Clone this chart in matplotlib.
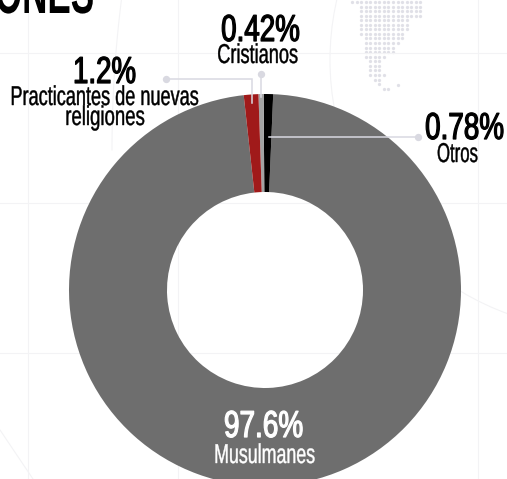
import numpy as np
import matplotlib
matplotlib.use("Agg")
import matplotlib.pyplot as plt
from matplotlib.patheffects import AbstractPathEffect
from matplotlib.patches import Circle
from matplotlib.transforms import Affine2D

categories = ["Musulmanes", "Otros", "Cristianos", "Practicantes de nuevas\nreligiones"]
values = [97.6, 0.78, 0.42, 1.2]
colors = ["#6e6e6e", "#000000", "#a3a3a3", "#a01a1a"]

FONT = "Liberation Sans"
W, H = 507, 479
GRID = "#f3f3f5"
LINE = "#d9d9e1"

fig = plt.figure(figsize=(W / 100, H / 100), dpi=100)


def pixel_axes(z):
    a = fig.add_axes([0, 0, 1, 1], zorder=z)
    a.set_xlim(0, W)
    a.set_ylim(H, 0)
    a.axis("off")
    a.patch.set_alpha(0)
    return a


class Tall(AbstractPathEffect):
    """Stretches a real text object upward from its baseline to imitate a condensed face."""

    def __init__(self, sy, base_disp, stroke):
        super().__init__()
        self.sy, self.base, self.stroke = sy, base_disp, stroke

    def draw_path(self, renderer, gc, tpath, affine, rgbFace=None):
        t = affine + Affine2D().translate(0, -self.base).scale(1, self.sy).translate(0, self.base)
        gc2 = renderer.new_gc()
        gc2.copy_properties(gc)
        if self.stroke:
            gc2.set_foreground(rgbFace)
            gc2.set_linewidth(self.stroke)
        else:
            gc2.set_linewidth(0)
        renderer.draw_path(gc2, tpath, t, rgbFace)
        gc2.restore()


def label(ax, s, x0, x1, base, size, weight="normal", color="black", stroke=0.0):
    """size is the apparent height in points; the real font size is set by the width x0..x1."""
    xc = (x0 + x1) / 2
    t = ax.text(xc, base, s, fontsize=10, fontweight=weight, family=FONT, color=color,
                ha="center", va="baseline")
    r = fig.canvas.get_renderer()
    fs = 10 * (x1 - x0) / t.get_window_extent(r).width
    t.set_fontsize(fs)
    base_disp = ax.transData.transform((xc, base))[1]
    t.set_path_effects([Tall(size / fs, base_disp, stroke)])
    return t


bg = pixel_axes(0)
for x in [28, 178, 478]:
    bg.plot([x, x], [0, H], color=GRID, lw=0.8)
for y in [53, 203, 353]:
    bg.plot([0, W], [y, y], color=GRID, lw=0.8)
bg.add_patch(Circle((600, 60), 270, fill=False, ec=GRID, lw=0.8))
arc_y = np.linspace(0, 150, 30)
bg.plot(1312 - np.sqrt(1200 ** 2 - (arc_y - 150) ** 2), arc_y, color=GRID, lw=0.8)
bg.plot([0, 33], [430, 479], color=GRID, lw=0.8)

# dotted map: (first column, last column) per row
map_rows = [(0, 15), (2, 15), (2, 15), (2, 15), (2, 12), (2, 12), (2, 12), (2, 11), (3, 11),
            (3, 10), (3, 9), (3, 9), (3, 7), (4, 6), (4, 6), (4, 6), (4, 7), (5, 6), (6, 6), (7, 8)]
mx, my = [], []
for r, (a, b) in enumerate(map_rows):
    for c in range(a, b + 1):
        mx.append(352 + 4.55 * c)
        my.append(2 + 4.56 * r)
mx.append(352 + 4.55 * 10)
my.append(85)
bg.scatter(mx, my, s=5.6, color="#e0e0e7", linewidths=0)

cx, cy, R = 265, 290, 196
ax = fig.add_axes([(cx - R) / W, 1 - (cy + R) / H, 2 * R / W, 2 * R / H], zorder=1)
ax.pie(values, colors=colors, startangle=90 - 2.4 - values[0] * 3.6, counterclock=True,
       radius=1, wedgeprops=dict(width=0.5, linewidth=0))
ax.set_xlim(-1, 1)
ax.set_ylim(-1, 1)

fg = pixel_axes(2)
fg.plot([166, 252, 252], [79, 79, 103], color=LINE, lw=1.1, solid_joinstyle="miter")
fg.plot([261, 261], [74, 97], color=LINE, lw=1.1)
fg.plot([269, 418], [137, 137], color=LINE, lw=1.1)
fg.scatter([166, 261, 418], [79, 74, 137], s=28, color=LINE, linewidths=0)

label(fg, "ONES", -5, 94, 13, 44, weight="bold")

pct = [f"{v}%" for v in values]
PCT = dict(size=27, stroke=0.9)
SUB = dict(size=19.6, stroke=0.3)
label(fg, pct[3], 73, 136, 83, **PCT)
label(fg, "Practicantes de nuevas", 10, 199, 105, **SUB)
label(fg, "religiones", 65, 145, 125, **SUB)
label(fg, pct[2], 221, 300, 41, **PCT)
label(fg, categories[2], 217, 298, 63, **SUB)
label(fg, pct[1], 425, 504, 139, **PCT)
label(fg, categories[1], 437, 478, 162, **SUB)
label(fg, pct[0], 224, 303, 437, color="white", **PCT)
label(fg, categories[0], 214, 315, 463, color="white", **SUB)

fig.savefig("out.png", dpi=100)
